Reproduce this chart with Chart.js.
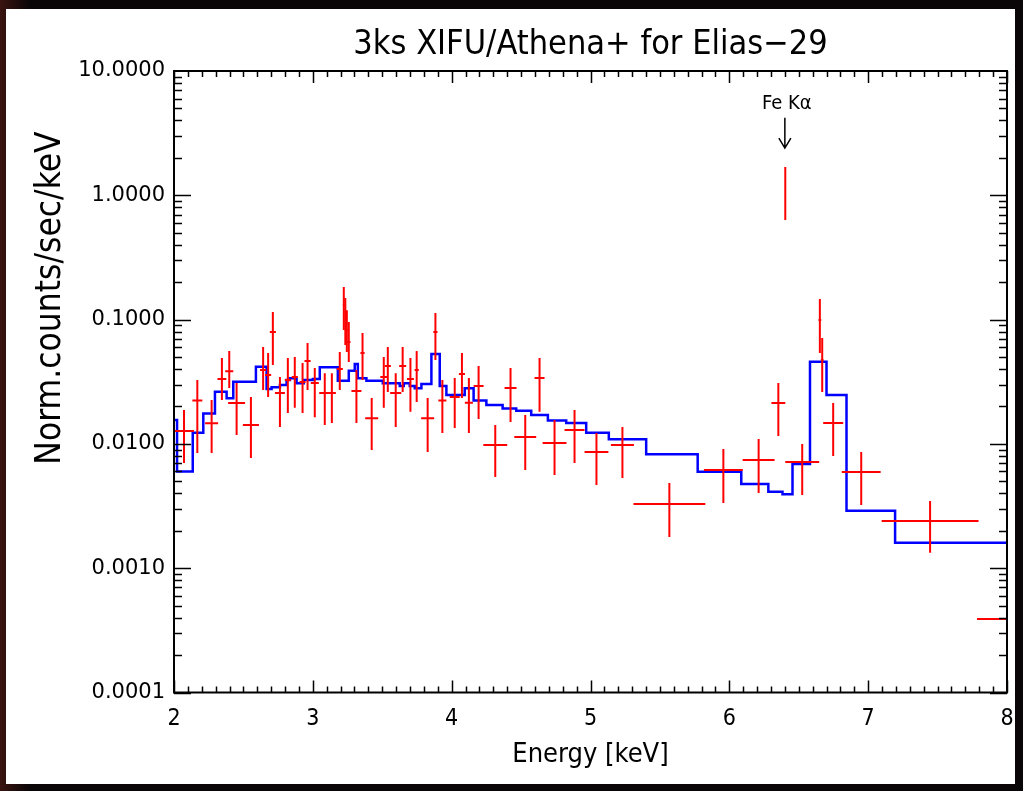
<!DOCTYPE html>
<html><head><meta charset="utf-8">
<script src="https://cdn.jsdelivr.net/npm/chart.js@4.4.1/dist/chart.umd.min.js"></script>
<style>
html,body{margin:0;padding:0;background:#0a0507;overflow:hidden}
canvas{display:block}
</style></head><body>
<canvas id="c" width="1023" height="791"></canvas>
<script>
// ---- data ----
const chartTitle = '3ks XIFU/Athena+ for Elias\u221229';
const xAxisTitle = 'Energy [keV]';
const yAxisTitle = 'Norm.counts/sec/keV';
const lineLabel = 'Fe K\u03b1';
const lineEnergy = 6.40;

const xTickValues = [2, 3, 4, 5, 6, 7, 8];
const xTickLabels = ['2', '3', '4', '5', '6', '7', '8'];
const yTickValues = [0.0001, 0.001, 0.01, 0.1, 1, 10];
const yTickLabels = ['0.0001', '0.0010', '0.0100', '0.1000', '1.0000', '10.0000'];

// folded model (step histogram: left bin edges and values)
const modelEdges = [2.0, 2.022, 2.135, 2.211, 2.295, 2.379, 2.427, 2.590, 2.667, 2.703, 2.763, 2.811, 2.835, 2.883, 2.935, 3.000, 3.050, 3.180, 3.259, 3.302, 3.324, 3.386, 3.504, 3.626, 3.655, 3.698, 3.734, 3.782, 3.854, 3.914, 3.962, 4.094, 4.158, 4.250, 4.367, 4.465, 4.573, 4.693, 4.825, 4.969, 5.132, 5.401, 5.772, 6.086, 6.281, 6.383, 6.455, 6.581, 6.700, 6.844, 7.194, 8.0];
const modelValues = [0.0156, 0.0060, 0.0123, 0.0176, 0.0263, 0.0233, 0.0316, 0.0418, 0.0277, 0.0285, 0.0298, 0.0327, 0.0338, 0.0308, 0.0327, 0.0333, 0.0413, 0.0322, 0.0388, 0.0439, 0.0338, 0.0322, 0.0308, 0.0292, 0.0308, 0.0292, 0.0280, 0.0303, 0.0528, 0.0292, 0.0247, 0.0280, 0.0223, 0.0206, 0.0193, 0.0185, 0.0171, 0.0154, 0.0147, 0.0123, 0.0109, 0.00824, 0.00597, 0.00475, 0.00412, 0.00394, 0.00689, 0.0458, 0.0247, 0.00290, 0.00160, 0.00160];

// observed spectrum
const dataX   = [1.97, 2.072, 2.168, 2.271, 2.345, 2.398, 2.451, 2.554, 2.642, 2.678, 2.712, 2.763, 2.820, 2.870, 2.926, 2.962, 3.014, 3.086, 3.137, 3.194, 3.223, 3.234, 3.245, 3.259, 3.314, 3.358, 3.424, 3.511, 3.540, 3.597, 3.647, 3.703, 3.748, 3.827, 3.883, 3.933, 4.022, 4.074, 4.124, 4.194, 4.314, 4.424, 4.530, 4.633, 4.741, 4.885, 5.043, 5.230, 5.568, 5.957, 6.211, 6.353, 6.403, 6.525, 6.652, 6.669, 6.748, 6.950, 7.446, 8.25];
const dataXErr = [0.035, 0.072, 0.036, 0.047, 0.032, 0.029, 0.061, 0.058, 0.022, 0.022, 0.022, 0.036, 0.022, 0.022, 0.022, 0.022, 0.029, 0.040, 0.029, 0.022, 0.008, 0.008, 0.008, 0.012, 0.036, 0.015, 0.047, 0.025, 0.022, 0.040, 0.025, 0.025, 0.015, 0.047, 0.015, 0.029, 0.036, 0.022, 0.029, 0.036, 0.086, 0.043, 0.079, 0.036, 0.086, 0.072, 0.086, 0.083, 0.259, 0.140, 0.115, 0.050, 0.003, 0.122, 0.010, 0.010, 0.072, 0.140, 0.349, 0.466];
const dataY   = [0.0238, 0.0127, 0.0223, 0.01466, 0.0333, 0.0385, 0.0213, 0.0142, 0.0393, 0.0358, 0.0794, 0.0257, 0.0327, 0.0345, 0.0315, 0.0464, 0.0309, 0.0257, 0.0257, 0.0401, 0.131, 0.103, 0.0824, 0.0661, 0.0266, 0.0538, 0.0161, 0.0345, 0.0424, 0.0257, 0.0424, 0.0333, 0.0393, 0.0161, 0.0794, 0.0223, 0.0238, 0.0365, 0.0214, 0.0292, 0.0098, 0.0282, 0.01136, 0.0339, 0.01016, 0.01295, 0.00861, 0.0098, 0.00328, 0.00617, 0.00742, 0.0213, 1.063, 0.00715, 0.0993, 0.0473, 0.01473, 0.00594, 0.00240, 0.00039];
const dataYLo = [0.0190, 0.00701, 0.00845, 0.00845, 0.02254, 0.0282, 0.0118, 0.0077, 0.0272, 0.0238, 0.0432, 0.0137, 0.0177, 0.0195, 0.0177, 0.0272, 0.0164, 0.0142, 0.0147, 0.0272, 0.0824, 0.0625, 0.0548, 0.0456, 0.0147, 0.0327, 0.00893, 0.0195, 0.0262, 0.0137, 0.0262, 0.0181, 0.0217, 0.00861, 0.0473, 0.01225, 0.0134, 0.0234, 0.01225, 0.01585, 0.00542, 0.0150, 0.00617, 0.0181, 0.00562, 0.00701, 0.00466, 0.00532, 0.00178, 0.00334, 0.00403, 0.01157, 0.632, 0.00388, 0.0538, 0.0262, 0.0080, 0.00322, 0.00133, 0.00026];
const dataYHi = [0.0300, 0.01875, 0.0327, 0.02254, 0.0491, 0.0558, 0.0309, 0.0238, 0.0602, 0.0538, 0.115, 0.0345, 0.0491, 0.0500, 0.0448, 0.0649, 0.0408, 0.0371, 0.0371, 0.0548, 0.183, 0.149, 0.119, 0.0957, 0.0393, 0.0780, 0.0234, 0.0500, 0.0602, 0.0371, 0.0602, 0.0491, 0.0558, 0.0234, 0.113, 0.0327, 0.0339, 0.0538, 0.0339, 0.0424, 0.0142, 0.0408, 0.0171, 0.0491, 0.01556, 0.01875, 0.01225, 0.01368, 0.00485, 0.0091, 0.01094, 0.0309, 1.69, 0.0100, 0.1465, 0.0711, 0.0213, 0.00861, 0.00347, 0.00056];

// ---- plugins ----
const NARROW = '"Liberation Sans Narrow", "DejaVu Sans Condensed", "Roboto Condensed", "Liberation Sans", sans-serif';

const bgPlugin = {
  id: 'bg',
  beforeDraw(chart) {
    const c = chart.ctx;
    c.save();
    const g = c.createLinearGradient(0, 0, 30, 0);
    g.addColorStop(0, '#3a1410');
    g.addColorStop(1, '#0a0507');
    c.fillStyle = '#0a0507';
    c.fillRect(0, 0, chart.width, chart.height);
    c.fillStyle = g;
    c.fillRect(0, 0, 30, chart.height);
    c.fillStyle = '#ffffff';
    c.fillRect(6, 9, 1009, 775);
    c.restore();
  }
};

const overlayPlugin = {
  id: 'overlay',
  afterDatasetsDraw(chart) {
    const c = chart.ctx;
    const xs = chart.scales.x, ys = chart.scales.y;
    const a = chart.chartArea;
    // error-bar crosses
    c.save();
    c.beginPath();
    c.rect(a.left, a.top, a.right - a.left, a.bottom - a.top);
    c.clip();
    c.strokeStyle = '#ff0000';
    c.lineWidth = 2;
    c.lineCap = 'butt';
    for (let i = 0; i < dataX.length; i++) {
      const x = xs.getPixelForValue(dataX[i]);
      const x0 = xs.getPixelForValue(dataX[i] - dataXErr[i]);
      const x1 = xs.getPixelForValue(dataX[i] + dataXErr[i]);
      const y = ys.getPixelForValue(dataY[i]);
      const y0 = ys.getPixelForValue(dataYLo[i]);
      const y1 = ys.getPixelForValue(dataYHi[i]);
      c.beginPath();
      c.moveTo(x0, y); c.lineTo(x1, y);
      c.moveTo(x, y0); c.lineTo(x, y1);
      c.stroke();
    }
    c.restore();

    // frame and inward ticks
    c.save();
    c.strokeStyle = '#000';
    c.lineWidth = 2;
    c.strokeRect(a.left, a.top, a.right - a.left, a.bottom - a.top);
    c.lineWidth = 1.5;
    c.beginPath();
    for (let k = 20; k <= 80; k++) {
      const v = k / 10;
      const px = Math.round(xs.getPixelForValue(v)) + 0.5;
      const len = (k % 10 === 0) ? 12 : 6;
      c.moveTo(px, a.bottom); c.lineTo(px, a.bottom - len);
      c.moveTo(px, a.top); c.lineTo(px, a.top + len);
    }
    for (let e = -4; e <= 0; e++) {
      for (let m = 1; m <= 9; m++) {
        const v = m * Math.pow(10, e);
        const py = Math.round(ys.getPixelForValue(v)) + 0.5;
        const len = (m === 1) ? 17 : 8;
        c.moveTo(a.left, py); c.lineTo(a.left + len, py);
        c.moveTo(a.right, py); c.lineTo(a.right - len, py);
      }
    }
    c.stroke();
    c.restore();

    // Fe K-alpha annotation
    const lx = xs.getPixelForValue(lineEnergy);
    const yTop = ys.getPixelForValue(4.2);
    const yBot = ys.getPixelForValue(2.4);
    c.save();
    c.strokeStyle = '#000';
    c.lineWidth = 1.5;
    c.beginPath();
    c.moveTo(lx, yTop); c.lineTo(lx, yBot);
    c.moveTo(lx - 6, yBot - 10); c.lineTo(lx, yBot); c.lineTo(lx + 6, yBot - 10);
    c.stroke();
    c.fillStyle = '#000';
    c.font = '20px ' + NARROW;
    c.textAlign = 'center';
    c.textBaseline = 'middle';
    c.fillText(lineLabel, lx + 2, ys.getPixelForValue(5.4));
    c.restore();
  },
  afterDraw(chart) {
    const c = chart.ctx;
    const a = chart.chartArea;
    const cx = (a.left + a.right) / 2;
    c.save();
    c.fillStyle = '#000';
    c.textAlign = 'center';
    c.textBaseline = 'middle';
    c.font = '34px ' + NARROW;
    c.fillText(chartTitle, cx, 45);
    c.font = '27px ' + NARROW;
    c.fillText(xAxisTitle, cx, 755);
    c.translate(51, 298);
    c.rotate(-Math.PI / 2);
    c.font = '35px ' + NARROW;
    c.fillText(yAxisTitle, 0, 0);
    c.restore();
  }
};

const modelPts = modelEdges.map((x, i) => ({ x: x, y: modelValues[i] }));
const dataPts = dataX.map((x, i) => ({ x: x, y: dataY[i] }));

new Chart(document.getElementById('c').getContext('2d'), {
  type: 'scatter',
  data: {
    datasets: [
      { type: 'line', label: 'model', data: modelPts, stepped: true, borderColor: '#0000ff',
        borderWidth: 2.5, pointRadius: 0, fill: false, tension: 0 },
      { label: 'data', data: dataPts, pointRadius: 0, showLine: false, borderColor: '#ff0000' }
    ]
  },
  options: {
    responsive: false, animation: false, devicePixelRatio: 1,
    layout: { padding: { left: 0, top: 71, right: 16, bottom: 0 } },
    plugins: { legend: { display: false }, tooltip: { enabled: false }, title: { display: false } },
    scales: {
      x: {
        type: 'linear', min: 2, max: 8,
        grid: { display: false, drawTicks: false }, border: { display: false },
        afterBuildTicks: s => { s.ticks = xTickValues.map(v => ({ value: v })); },
        afterFit: s => { s.height = 98.5; s.paddingLeft = 0; s.paddingRight = 0; },
        ticks: { autoSkip: false, maxRotation: 0, padding: 13, color: '#000',
          font: { family: NARROW, size: 23 },
          callback: (v, i) => xTickLabels[i] }
      },
      y: {
        type: 'logarithmic', min: 0.0001, max: 10,
        grid: { display: false, drawTicks: false }, border: { display: false },
        afterBuildTicks: s => { s.ticks = yTickValues.map(v => ({ value: v })); },
        afterFit: s => { s.width = 174; s.paddingTop = 0; s.paddingBottom = 0; },
        ticks: { autoSkip: false, padding: 9, color: '#000',
          font: { family: '"DejaVu Sans", sans-serif', size: 21 },
          callback: (v, i) => yTickLabels[i] }
      }
    }
  },
  plugins: [bgPlugin, overlayPlugin]
});
</script>
</body></html>
